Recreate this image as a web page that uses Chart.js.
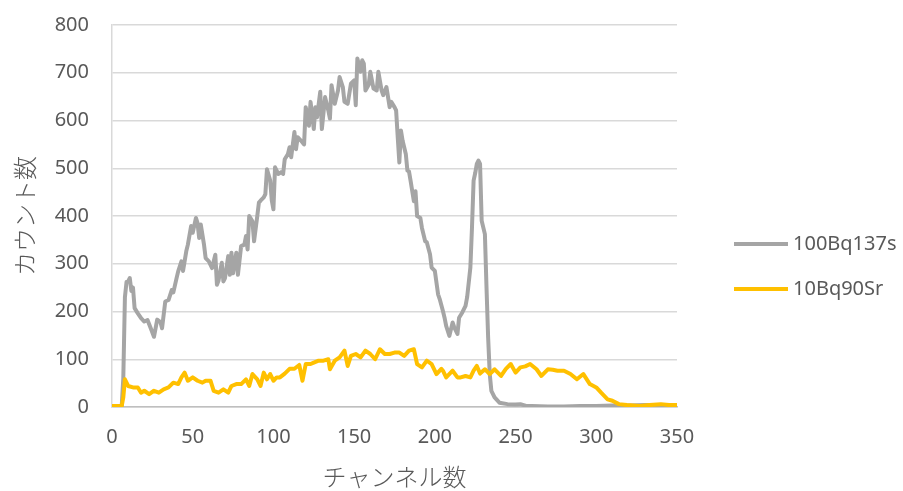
<!DOCTYPE html>
<html>
<head>
<meta charset="utf-8">
<script src="https://cdn.jsdelivr.net/npm/chart.js@4.4.1/dist/chart.umd.min.js"></script>
<style>
  html, body { margin: 0; padding: 0; background: #fff; }
  #wrap { width: 903px; height: 491px; position: relative; }
</style>
</head>
<body>
<div id="wrap"><canvas id="spectrum"></canvas></div>
<script>
// values
var seriesNames = ['100Bq137s', '10Bq90Sr'];

var csChannels = [0, 3, 6, 7, 8, 9, 10, 11, 12, 13, 14, 16, 18, 20, 22, 24, 26, 28, 30, 31, 33, 35, 37, 38, 40, 41, 43, 44, 46, 47, 49, 50, 52, 53, 54, 55, 57, 58, 60, 62, 64, 65, 66, 68, 69, 70, 72, 73, 74, 75, 77, 78, 80, 82, 83, 84, 85, 87, 88, 90, 91, 92, 94, 95, 96, 98, 99, 100, 101, 103, 105, 106, 107, 109, 110, 111, 113, 114, 115, 117, 119, 120, 122, 123, 125, 126, 127, 129, 130, 132, 134, 135, 136, 138, 140, 141, 143, 144, 146, 148, 150, 151, 152, 154, 155, 156, 157, 159, 160, 162, 164, 165, 167, 168, 170, 172, 173, 175, 176, 177, 178, 179, 180, 182, 183, 184, 185, 187, 188, 189, 191, 192, 194, 195, 197, 198, 200, 202, 203, 205, 206, 207, 209, 211, 212, 214, 215, 217, 219, 220, 222, 223, 224, 225, 226, 227, 228, 229, 231, 232, 233, 234, 235, 237, 240, 245, 250, 253, 257, 260, 270, 280, 290, 300, 310, 320, 330, 340, 350];
var csCounts = [0, 0, 1, 60, 230, 262, 263, 270, 243, 250, 207, 196, 186, 179, 182, 165, 147, 183, 178, 165, 221, 224, 245, 240, 270, 284, 305, 285, 326, 340, 379, 365, 396, 385, 354, 382, 340, 312, 305, 291, 319, 256, 265, 302, 263, 270, 316, 277, 323, 280, 323, 277, 337, 340, 358, 330, 400, 389, 347, 400, 428, 432, 439, 446, 498, 474, 432, 414, 502, 488, 492, 488, 519, 530, 544, 523, 576, 540, 565, 558, 550, 628, 589, 639, 582, 628, 607, 660, 582, 649, 621, 604, 674, 635, 663, 691, 670, 639, 635, 677, 684, 632, 730, 702, 726, 719, 663, 675, 702, 667, 663, 702, 663, 653, 670, 628, 639, 628, 621, 565, 512, 579, 558, 530, 495, 493, 473, 431, 452, 400, 396, 375, 347, 345, 320, 292, 285, 236, 226, 201, 187, 170, 149, 177, 167, 153, 187, 198, 212, 230, 292, 376, 474, 490, 509, 516, 509, 390, 362, 250, 146, 69, 34, 20, 9, 6, 5, 6, 2, 2, 1, 1, 2, 2, 3, 3, 4, 4, 4];

var srChannels = [0, 3, 6, 7, 8, 10, 13, 16, 18, 20, 23, 26, 29, 32, 35, 38, 41, 43, 45, 47, 50, 53, 56, 58, 61, 63, 66, 69, 72, 74, 77, 80, 83, 85, 87, 90, 92, 94, 96, 98, 100, 102, 104, 107, 110, 113, 116, 118, 120, 123, 125, 128, 131, 134, 135, 138, 141, 144, 146, 148, 151, 154, 157, 160, 163, 166, 169, 172, 175, 178, 181, 184, 187, 189, 192, 195, 198, 201, 204, 205, 207, 211, 214, 216, 219, 222, 224, 226, 228, 231, 234, 237, 241, 244, 247, 250, 253, 256, 259, 263, 266, 270, 273, 276, 280, 284, 288, 292, 296, 300, 303, 307, 310, 314, 319, 323, 327, 333, 340, 345, 350];
var srCounts = [2, 2, 2, 20, 58, 44, 41, 41, 30, 34, 27, 34, 30, 37, 41, 51, 48, 62, 72, 55, 62, 55, 51, 55, 55, 34, 30, 37, 30, 44, 48, 48, 58, 44, 69, 58, 44, 72, 58, 69, 55, 62, 62, 70, 80, 80, 88, 55, 90, 90, 93, 97, 97, 100, 79, 97, 104, 118, 86, 107, 111, 104, 118, 111, 100, 121, 111, 111, 114, 114, 107, 118, 121, 90, 83, 97, 90, 69, 80, 76, 62, 76, 62, 62, 65, 62, 76, 86, 70, 79, 69, 79, 65, 80, 90, 72, 83, 85, 90, 79, 65, 79, 78, 76, 76, 69, 58, 69, 48, 41, 30, 16, 13, 6, 4, 3, 2, 4, 6, 4, 4];

var xTicks = [0, 50, 100, 150, 200, 250, 300, 350];
var yTicks = [0, 100, 200, 300, 400, 500, 600, 700, 800];

var colors = ['#a5a5a5', '#ffc000'];
var textColor = '#595959';
var numFont = '"Noto Sans", "Open Sans", sans-serif';
var jpFont = '"Noto Sans CJK JP", "Noto Sans", sans-serif';

function points(xs, ys) {
    return xs.map(function (x, i) { return { x: x, y: ys[i] }; });
}

// legend drawn to the right of the plot, line sample + label
var sideLegend = {
    id: 'sideLegend',
    afterDraw: function (chart) {
        var ctx = chart.ctx;
        var area = chart.chartArea;
        var mid = (area.top + area.bottom) / 2;
        var x0 = area.right + 57;
        ctx.save();
        ctx.font = '20px ' + numFont;
        ctx.textBaseline = 'middle';
        chart.data.datasets.forEach(function (ds, i) {
            var y = mid + 28 + i * 45;
            ctx.strokeStyle = ds.borderColor;
            ctx.lineWidth = 4;
            ctx.beginPath();
            ctx.moveTo(x0, y);
            ctx.lineTo(x0 + 54, y);
            ctx.stroke();
            ctx.fillStyle = textColor;
            ctx.fillText(ds.label, x0 + 59, y);
        });
        ctx.restore();
    }
};

new Chart(document.getElementById('spectrum'), {
    type: 'line',
    data: {
        datasets: [
            {
                label: seriesNames[0],
                data: points(csChannels, csCounts),
                borderColor: colors[0],
                borderWidth: 4,
                pointRadius: 0,
                borderJoinStyle: 'round',
                order: 1
            },
            {
                label: seriesNames[1],
                data: points(srChannels, srCounts),
                borderColor: colors[1],
                borderWidth: 4,
                pointRadius: 0,
                borderJoinStyle: 'round',
                order: 0
            }
        ]
    },
    options: {
        responsive: true,
        maintainAspectRatio: false,
        animation: false,
        layout: { padding: { left: 10, right: 226, top: 25, bottom: 0 } },
        plugins: { legend: { display: false }, tooltip: { enabled: false } },
        scales: {
            x: {
                type: 'linear',
                min: 0,
                max: 350,
                afterBuildTicks: function (s) { s.ticks = xTicks.map(function (v) { return { value: v }; }); },
                afterFit: function (s) { s.height = 84; s.paddingLeft = 0; s.paddingRight = 0; },
                grid: { display: false, drawTicks: false },
                border: { display: true, color: '#bfbfbf', width: 1.5 },
                ticks: { color: textColor, font: { family: numFont, size: 20 }, padding: 18, maxRotation: 0 },
                title: { display: true, text: 'チャンネル数', color: textColor, font: { family: jpFont, size: 24, weight: 300 }, padding: { top: 0, bottom: 0 } }
            },
            y: {
                min: 0,
                max: 800,
                afterBuildTicks: function (s) { s.ticks = yTicks.map(function (v) { return { value: v }; }); },
                afterFit: function (s) { s.width = 102; s.paddingTop = 0; s.paddingBottom = 0; },
                grid: { color: '#d9d9d9', lineWidth: 1.5, drawTicks: false },
                border: { display: true, color: '#d9d9d9', width: 1.5 },
                ticks: { color: textColor, font: { family: numFont, size: 20 }, padding: 23 },
                title: { display: true, text: 'カウント数', color: textColor, font: { family: jpFont, size: 24, weight: 300 }, padding: { top: 0, bottom: 0 } }
            }
        }
    },
    plugins: [sideLegend]
});
</script>
</body>
</html>
